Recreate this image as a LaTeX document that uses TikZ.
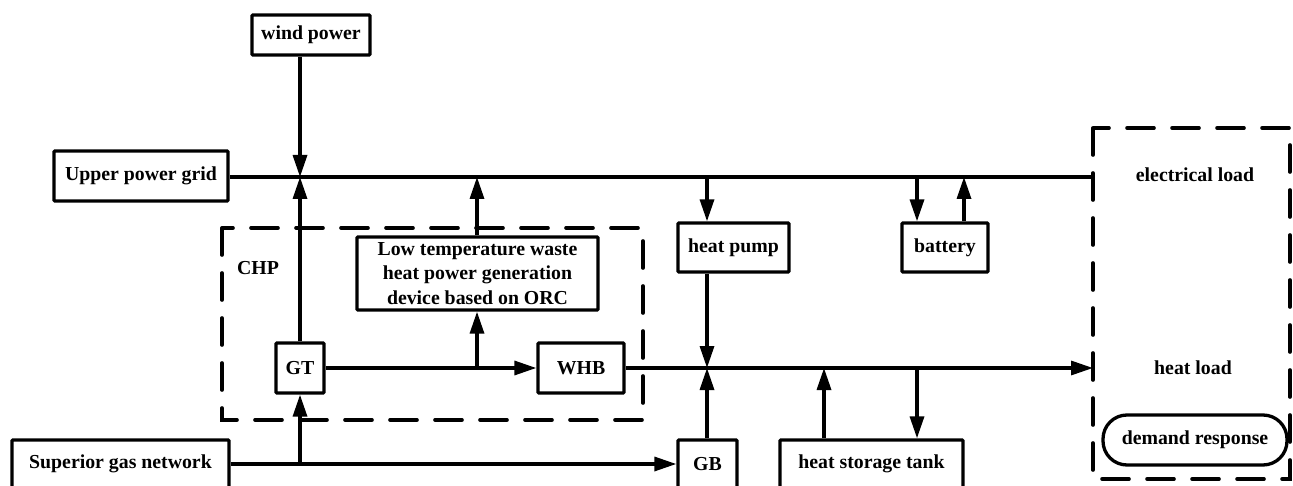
\documentclass[tikz,border=0pt]{standalone}
\usepackage{fontspec}
\setmainfont{Liberation Serif}
\usetikzlibrary{arrows.meta}
\begin{document}
\begin{tikzpicture}[x=1pt,y=-1pt,
  every node/.style={font=\fontsize{19.8}{24.5}\selectfont\bfseries, inner sep=0pt},
  blk/.style={draw, line width=3.3pt, rounded corners=1pt, minimum width=#1, align=center},
  blk/.default=50pt,
  flow/.style={line width=3.3pt, -{Triangle[width=14pt,length=22pt]}},
  plain/.style={line width=3.3pt},
  dbox/.style={line width=3.6pt, dash pattern=on 27pt off 18pt, line cap=round}]
\useasboundingbox (0,0) rectangle (1293,486);
\clip (0,0) rectangle (1293,486);
% nodes
\node[blk=118pt, minimum height=40pt] (wind) at (311,35) {wind power};
\node[blk=174pt, minimum height=50pt] (grid) at (141,176) {Upper power grid};
\node[blk=241pt, minimum height=73pt] (orc) at (477.5,273.5) {Low temperature waste\\heat power generation\\device based on ORC};
\node[blk=48pt, minimum height=50pt] (gt) at (300,368) {GT};
\node[blk=86pt, minimum height=50pt] (whb) at (581,368) {WHB};
\node[blk=111pt, minimum height=49pt] (hp) at (733.5,247.5) {heat pump};
\node[blk=86pt, minimum height=49pt] (bat) at (945,247.5) {battery};
\node[blk=217pt, minimum height=48pt] (gas) at (120.5,464) {Superior gas network};
\node[blk=59pt, minimum height=48pt] (gb) at (707.5,464) {GB};
\node[blk=183pt, minimum height=48pt] (tank) at (871.5,464) {heat storage tank};
\node[draw, line width=3.3pt, rounded corners=24pt, minimum width=184pt, minimum height=50pt] (dr) at (1195,440) {demand response};
\node (chp) at (258,268) {CHP};
\node (eload) at (1195,175) {electrical load};
\node (hload) at (1193,368) {heat load};
% dashed groups
\draw[dbox] (222,228) rectangle (643,420);
\draw[dbox] (1093,128) rectangle (1290,479);
% junction coordinates
\coordinate (jE) at (300,177);
\coordinate (busE) at (1093,177);
\coordinate (jO) at (477,177);
\coordinate (jHPin) at (707,177);
\coordinate (jBin) at (917,177);
\coordinate (jBout) at (964,177);
\coordinate (jH) at (707,368);
\coordinate (heatE) at (1093,368);
\coordinate (jTin) at (824,368);
\coordinate (jTout) at (917,368);
\coordinate (jOb) at (477,368);
\coordinate (jG) at (300,464);
% electrical bus
\draw[plain] (grid.east |- busE) -- (busE);
\draw[flow] (wind.south -| jE) -- (jE);
\draw[flow] (gt.north) -- (jE);
\draw[flow] (orc.north -| jO) -- (jO);
\draw[flow] (jHPin) -- (hp.north -| jHPin);
\draw[flow] (jBin) -- (bat.north -| jBin);
\draw[flow] (bat.north -| jBout) -- (jBout);
% CHP internal
\draw[flow] (gt.east) -- (whb.west);
\draw[flow] (jOb) -- (orc.south -| jOb);
% heat bus
\draw[flow] (whb.east) -- (heatE);
\draw[flow] (hp.south -| jH) -- (jH);
\draw[flow] (gb.north -| jH) -- (jH);
\draw[flow] (tank.north -| jTin) -- (jTin);
\draw[flow] (jTout) -- (tank.north -| jTout);
% gas
\draw[flow] (gas.east |- jG) -- (gb.west);
\draw[flow] (jG) -- (gt.south);
\end{tikzpicture}
\end{document}
